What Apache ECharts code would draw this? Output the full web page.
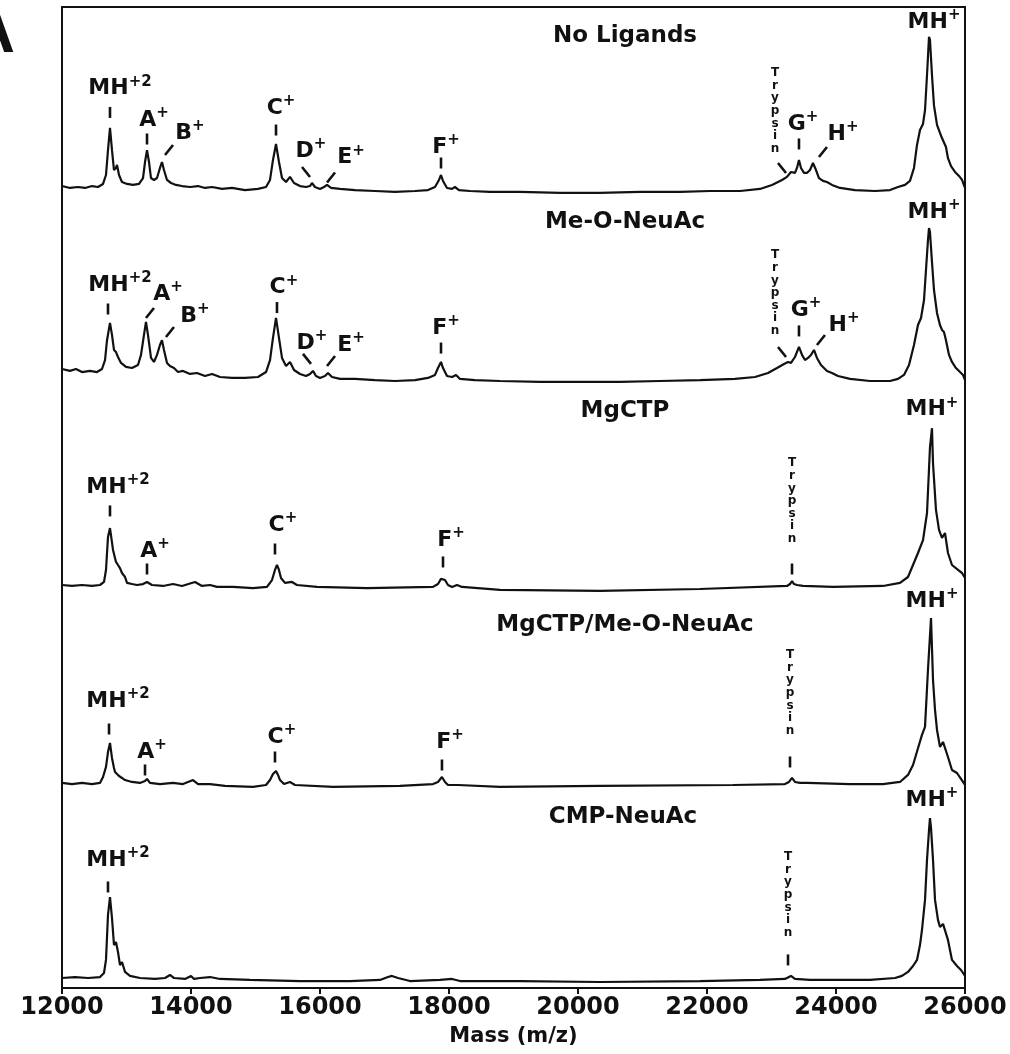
<!DOCTYPE html>
<html>
<head>
<meta charset="utf-8">
<script src="https://cdn.jsdelivr.net/npm/echarts@6/dist/echarts.min.js"></script>
<style>
  html, body { margin: 0; padding: 0; background: #fff; }
  #chart { width: 1010px; height: 1054px; }
</style>
</head>
<body>
<div id="chart"></div>
<script>
// ---- data -----------------------------------------------------------------
const massTicks = [12000, 14000, 16000, 18000, 20000, 22000, 24000, 26000];

const panelTitles = ['No Ligands', 'Me-O-NeuAc', 'MgCTP', 'MgCTP/Me-O-NeuAc', 'CMP-NeuAc'];

// [mass (m/z), relative intensity]
const spectrumNoLigands = [
  [12000,5.6],[12124,4.4],[12248,5],[12357,4.4],[12465,5.6],[12558,5],[12636,6.9],[12682,12.5],[12713,28],[12744,42],
  [12775,28],[12806,15.6],[12837,16.9],[12853,18.8],[12884,12.5],[12930,8.1],[13008,6.9],[13101,6.3],[13194,6.9],[13256,10.6],
  [13287,20.6],[13318,28],[13349,20.6],[13380,10.6],[13426,9.4],[13473,10.6],[13519,16.9],[13550,20.6],[13581,15.6],[13628,9.4],
  [13690,7.5],[13767,6.3],[13860,5.6],[13985,5],[14109,5.6],[14217,4.4],[14326,5],[14481,3.8],[14636,4.4],[14837,3.1],
  [15039,3.8],[15163,5],[15225,9.4],[15271,21.9],[15318,31.9],[15364,20.6],[15411,10.6],[15473,8.1],[15535,11.3],[15597,7.5],
  [15690,5.6],[15783,5],[15845,5.6],[15876,7.5],[15922,5],[16000,3.8],[16062,5],[16109,6.3],[16171,4.4],[16310,3.8],
  [16543,3.1],[16853,2.5],[17163,1.9],[17473,2.5],[17674,3.1],[17783,5],[17845,9.4],[17876,12.5],[17907,8.8],[17969,4.4],
  [18047,3.8],[18093,5],[18155,3.1],[18326,2.5],[18636,1.9],[19101,1.9],[19721,1.3],[20341,1.3],[20961,1.9],[21581,1.9],
  [22047,2.5],[22512,2.5],[22822,3.8],[23008,6.3],[23163,9.4],[23240,11.3],[23302,14.4],[23364,13.8],[23395,16.9],[23426,21.9],
  [23457,16.9],[23504,13.8],[23550,13.8],[23597,15.6],[23643,20],[23690,15.6],[23736,10.6],[23798,8.8],[23860,8.1],[23938,6.3],
  [24062,4.4],[24295,3.1],[24605,2.5],[24837,3.1],[24961,5],[25070,6.3],[25147,8.8],[25209,16.9],[25256,31.3],[25302,40.6],
  [25349,44.4],[25380,53],[25411,75],[25442,98.8],[25457,97],[25488,75],[25519,56],[25566,43.8],[25612,38.8],[25643,35.6],
  [25659,34.4],[25674,35.6],[25705,30],[25736,23],[25783,18],[25845,14.4],[25907,11.9],[25954,9.4],[26000,4.4]
];

const spectrumMeONeuAc = [
  [12000,10],[12124,8.8],[12217,10],[12310,8.1],[12434,8.8],[12543,8.1],[12620,10],[12667,15.6],[12698,28],[12744,38.8],
  [12775,31.3],[12806,21.9],[12837,20.6],[12868,17.5],[12915,13.8],[12992,11.3],[13085,10.6],[13178,12.5],[13225,18.8],[13271,31.3],
  [13302,39.4],[13333,31.3],[13380,16.9],[13426,14.4],[13473,18.8],[13519,25],[13550,28],[13581,21.9],[13628,13.8],[13674,11.9],
  [13736,10.6],[13798,8.1],[13876,8.8],[13985,6.9],[14093,7.5],[14217,5.6],[14326,6.9],[14450,5],[14636,4.4],[14837,4.4],
  [15039,5],[15163,8.1],[15225,15.6],[15271,29.4],[15318,41.9],[15364,29.4],[15411,16.9],[15473,11.9],[15535,14.4],[15597,9.4],
  [15690,6.9],[15783,5.6],[15845,6.9],[15891,8.8],[15938,5.6],[16000,4.4],[16077,5.6],[16124,7.5],[16186,5],[16310,3.8],
  [16543,3.8],[16853,3.1],[17163,2.5],[17473,3.1],[17674,4.4],[17783,6.3],[17829,10.6],[17876,14.4],[17907,10.6],[17969,5.6],
  [18047,5],[18109,6.3],[18171,3.8],[18403,3.1],[18791,2.5],[19411,1.9],[20031,1.9],[20651,1.9],[21271,2.5],[21892,3.1],
  [22434,3.8],[22744,5],[22946,7.5],[23085,10.6],[23194,13.1],[23256,14.4],[23302,13.8],[23364,17.5],[23426,23.8],[23473,18.8],
  [23519,15.6],[23566,16.9],[23612,18.8],[23659,21.9],[23705,16.9],[23767,12.5],[23860,8.8],[23938,7.5],[24031,5.6],[24217,3.8],
  [24527,2.5],[24837,2.5],[24961,3.8],[25054,6.3],[25132,12.5],[25209,25],[25271,37.5],[25318,41.9],[25364,53],[25395,71.9],
  [25426,90.6],[25442,98.1],[25457,95.6],[25488,76.9],[25519,59.4],[25566,45],[25612,37.5],[25643,34.4],[25674,33.1],[25705,28],
  [25752,18.8],[25798,14.4],[25860,10.6],[25923,8.1],[25969,6.3],[26000,3.1]
];

const spectrumMgCTP = [
  [12000,5],[12155,4.4],[12310,5],[12465,4.4],[12589,5],[12651,6.9],[12682,14.4],[12713,35],[12744,40.6],[12791,26.9],
  [12837,19.4],[12868,17.5],[12899,15.6],[12930,12.5],[12977,10],[13008,6.3],[13085,5.6],[13163,5],[13256,5.6],[13318,6.9],
  [13395,5],[13566,4.4],[13721,5.6],[13860,4.4],[14062,6.9],[14171,4.4],[14295,5],[14403,3.8],[14651,3.8],[14961,3.1],
  [15178,3.8],[15256,8.1],[15302,14.4],[15333,17.5],[15364,14.4],[15395,9.4],[15457,6.3],[15566,6.9],[15643,5],[15953,3.8],
  [16729,3.1],[17752,3.8],[17829,5.6],[17876,8.8],[17907,10],[17938,8.1],[17984,5],[18047,3.8],[18124,5],[18202,3.8],
  [18791,1.9],[20341,1.3],[21892,2.5],[23240,4.4],[23287,5.6],[23318,7.5],[23349,5.6],[23395,5],[23488,4.4],[23953,3.8],
  [24729,4.4],[24992,6.3],[25116,10],[25194,17.5],[25271,25],[25349,33],[25411,50],[25457,91],[25488,103],[25504,81],
  [25550,52],[25597,39.4],[25643,34.4],[25690,37.5],[25736,25],[25798,17.5],[25892,14.4],[25954,12.5],[26000,9.4]
];

const spectrumMgCTPMeONeuAc = [
  [12000,6.3],[12155,5.6],[12310,6.3],[12465,5.6],[12589,6.3],[12636,10],[12682,16.3],[12713,25.6],[12744,31.3],[12775,21.9],
  [12806,15.6],[12822,13.1],[12853,13.8],[12884,10.6],[12930,9.4],[12977,8.1],[13085,6.9],[13209,6.3],[13287,7.5],[13318,8.8],
  [13364,6.3],[13519,5.6],[13721,6.3],[13876,5.6],[14031,8.1],[14109,5.6],[14295,5.6],[14527,4.4],[14961,3.8],[15163,5],
  [15225,8.1],[15271,11.9],[15318,13.8],[15349,11.3],[15380,8.1],[15442,5.6],[15535,6.9],[15612,5],[16202,3.8],[17240,4.4],
  [17752,5.6],[17829,6.9],[17891,10],[17938,6.9],[17984,5],[18140,5],[18791,3.8],[20341,4.4],[22403,5],[23209,5.6],
  [23271,6.9],[23318,9.4],[23364,6.9],[23442,6.3],[23550,6.3],[24217,5.6],[24729,5.6],[24992,6.9],[25116,11.3],[25194,17.5],
  [25271,28],[25333,36.3],[25380,41.3],[25426,77],[25473,109.4],[25504,70.6],[25535,52],[25566,39.4],[25612,28.8],[25659,31.9],
  [25690,33.1],[25736,22.5],[25798,14.4],[25876,12.5],[25969,6.9],[26000,5]
];

const spectrumCMPNeuAc = [
  [12000,5],[12202,5.6],[12403,5],[12589,5.6],[12651,8.1],[12682,16.3],[12713,44.4],[12744,55.6],[12775,42.5],[12806,25.6],
  [12837,27.5],[12868,21.3],[12899,13.1],[12930,15],[12977,8.8],[13054,6.3],[13209,5],[13442,4.4],[13597,5],[13674,6.9],
  [13736,5],[13907,4.4],[14000,6.3],[14047,4.4],[14140,5],[14295,5.6],[14450,4.4],[14915,3.8],[15690,3.1],[16465,3.1],
  [16930,3.8],[17054,5.6],[17116,6.3],[17209,5],[17395,3.1],[17860,3.8],[18047,4.4],[18171,3.1],[19101,3.1],[20341,2.5],
  [21892,3.1],[22822,3.8],[23209,4.4],[23302,6.3],[23364,4.4],[23597,3.8],[24527,3.8],[24915,5],[25023,6.3],[25116,8.8],
  [25194,12.5],[25256,16.3],[25302,25.6],[25333,35],[25380,53.8],[25411,78.8],[25442,97.5],[25457,105],[25473,98.8],[25504,78.8],
  [25535,53.8],[25581,41.3],[25612,36.9],[25659,38.8],[25690,39.4],[25736,28.8],[25798,16.3],[25876,12.5],[25938,10],[26000,6.3]
];

// peak annotations: [label, mass of marker, intensity of marker, marker kind]
// marker kind: 'v' upright dash, 'f' forward slash, 'b' back slash, 'n' none
const peaksNoLigands = [
  ['MH+2',12744,51.6,'v'],['A+',13318,35,'v'],['B+',13659,28.1,'f'],['C+',15318,40.6,'v'],['D+',15783,14.4,'b'],
  ['E+',16171,10.9,'f'],['F+',17876,20,'v'],['Trypsin',23163,16.9,'b'],['G+',23426,31.9,'v'],['H+',23798,26.9,'f'],
  ['MH+',25442,98.8,'n']
];
const peaksMeONeuAc = [
  ['MH+2',12713,47.5,'v'],['A+',13364,45,'f'],['B+',13674,33.1,'f'],['C+',15333,48.4,'v'],['D+',15798,16.3,'b'],
  ['E+',16171,15,'f'],['F+',17876,23.1,'v'],['Trypsin',23163,20.6,'b'],['G+',23426,33.8,'v'],['H+',23767,28.1,'f'],
  ['MH+',25442,98.1,'n']
];
const peaksMgCTP = [
  ['MH+2',12744,51.3,'v'],['A+',13318,15,'v'],['C+',15302,27.5,'v'],['F+',17907,19.4,'v'],['Trypsin',23318,15,'v'],
  ['MH+',25488,103,'n']
];
const peaksMgCTPMeONeuAc = [
  ['MH+2',12729,40,'v'],['A+',13287,14.4,'v'],['C+',15302,22.5,'v'],['F+',17891,17.5,'v'],['Trypsin',23287,19.4,'v'],
  ['MH+',25473,109.4,'n']
];
const peaksCMPNeuAc = [
  ['MH+2',12713,61.9,'v'],['Trypsin',23256,16.3,'v'],['MH+',25457,105,'n']
];

// ---- layout ---------------------------------------------------------------
const spectra = [spectrumNoLigands, spectrumMeONeuAc, spectrumMgCTP, spectrumMgCTPMeONeuAc, spectrumCMPNeuAc];
const peakSets = [peaksNoLigands, peaksMeONeuAc, peaksMgCTP, peaksMgCTPMeONeuAc, peaksCMPNeuAc];

const PLOT_LEFT = 62, PLOT_RIGHT = 45, FRAME_TOP = 7, FRAME_BOTTOM = 66;
const PANEL_HEIGHT = 160;                       // pixels for 100 intensity units
const panelZeroY = [195, 385, 593, 793, 986];   // pixel row of zero intensity per trace
const titleCenters = [[625, 36], [625, 222], [625, 411], [625, 625], [623, 817]];

// label offsets (px) from each marker, same order as the peak lists
const labelOffsets = [
  [[10,-24],[7,-19],[21,-17],[5,-22],[5,-21],[20,-20],[5,-16],[-7,-57],[4,-20],[20,-18],[5,-15]],
  [[12,-24],[18,-19],[25,-16],[7,-20],[5,-16],[20,-16],[5,-20],[-7,-59],[7,-21],[23,-15],[5,-16]],
  [[8,-24],[8,-18],[8,-24],[8,-22],[0,-68],[0,-19]],
  [[9,-28],[7,-18],[7,-20],[8,-23],[0,-69],[1,-17]],
  [[10,-27],[0,-65],[2,-18]]
];

const FONT = '"DejaVu Sans", "Liberation Sans", sans-serif';
const INK = '#111';

function dash(x1, y1, x2, y2) {
  return { type: 'line', shape: { x1, y1, x2, y2 }, style: { stroke: INK, lineWidth: 2.6, lineCap: 'butt' } };
}

function peakText(label, x, y) {
  const cut = label.indexOf('+');
  const main = label.slice(0, cut), sup = label.slice(cut);
  return {
    type: 'text', x, y,
    style: {
      text: '{m|' + main + '}{s|' + sup + '}',
      align: 'center', verticalAlign: 'middle',
      rich: {
        m: { fontFamily: FONT, fontWeight: 'bold', fontSize: 22, lineHeight: 28, fill: INK, verticalAlign: 'middle' },
        s: { fontFamily: FONT, fontWeight: 'bold', fontSize: 15, lineHeight: 15, fill: INK, verticalAlign: 'top' }
      }
    }
  };
}

function trypsinText(x, y) {
  return {
    type: 'text', x, y,
    style: {
      text: 'Trypsin'.split('').join('\n'),
      align: 'center', verticalAlign: 'middle',
      fontFamily: FONT, fontWeight: 'bold', fontSize: 12, lineHeight: 12.6, fill: INK
    }
  };
}

function annotationSeries(panel) {
  const list = peakSets[panel];
  const offs = labelOffsets[panel];
  return {
    type: 'custom',
    xAxisIndex: panel, yAxisIndex: panel,
    silent: true, clip: false, z: 5,
    data: list.map(d => [d[1], d[2]]),
    renderItem: (params, api) => {
      const d = list[params.dataIndex];
      const off = offs[params.dataIndex];
      const p = api.coord([api.value(0), api.value(1)]);
      const children = [];
      if (d[3] === 'v') children.push(dash(p[0], p[1] - 5.5, p[0], p[1] + 5.5));
      else if (d[3] === 'f') children.push(dash(p[0] - 4, p[1] + 5, p[0] + 4, p[1] - 5));
      else if (d[3] === 'b') children.push(dash(p[0] - 4, p[1] - 5, p[0] + 4, p[1] + 5));
      const lx = p[0] + off[0], ly = p[1] + off[1];
      children.push(d[0] === 'Trypsin' ? trypsinText(lx, ly) : peakText(d[0], lx, ly));
      return { type: 'group', children };
    }
  };
}

// ---- option ---------------------------------------------------------------
const grids = [], xAxes = [], yAxes = [], series = [];

spectra.forEach((data, i) => {
  grids.push({ left: PLOT_LEFT, right: PLOT_RIGHT, top: panelZeroY[i] - PANEL_HEIGHT, height: PANEL_HEIGHT, show: false });
  xAxes.push({ type: 'value', gridIndex: i, min: massTicks[0], max: massTicks[massTicks.length - 1], show: false });
  yAxes.push({ type: 'value', gridIndex: i, min: 0, max: 100, show: false });
  series.push({
    type: 'line', name: panelTitles[i], xAxisIndex: i, yAxisIndex: i,
    data, showSymbol: false, symbol: 'none', smooth: false, clip: false,
    lineStyle: { color: INK, width: 2.2 }, z: 3
  });
  series.push(annotationSeries(i));
});

// outer frame carrying the mass axis
const frame = spectra.length;
grids.push({
  left: PLOT_LEFT, right: PLOT_RIGHT, top: FRAME_TOP, bottom: FRAME_BOTTOM,
  show: true, borderColor: INK, borderWidth: 2, backgroundColor: 'transparent'
});
xAxes.push({
  type: 'value', gridIndex: frame,
  min: massTicks[0], max: massTicks[massTicks.length - 1], interval: 2000,
  name: 'Mass (m/z)', nameLocation: 'middle', nameGap: 38,
  nameTextStyle: { fontFamily: FONT, fontWeight: 'bold', fontSize: 21, color: INK },
  axisLine: { show: true, lineStyle: { color: INK, width: 2 } },
  axisTick: { show: true, inside: false, length: 6, lineStyle: { color: INK, width: 2 } },
  axisLabel: {
    show: true, margin: 8, color: INK, fontFamily: FONT, fontWeight: 'bold', fontSize: 24,
    showMinLabel: true, showMaxLabel: true,
    formatter: v => String(v)
  },
  splitLine: { show: false }
});
yAxes.push({ type: 'value', gridIndex: frame, min: 0, max: 1, show: false });

const graphic = panelTitles.map((t, i) => ({
  type: 'text', x: titleCenters[i][0], y: titleCenters[i][1], silent: true,
  style: { text: t, fontFamily: FONT, fontWeight: 'bold', fontSize: 23, fill: INK, align: 'center', verticalAlign: 'middle' }
}));
// panel letter in the corner
graphic.push({
  type: 'text', x: 15, y: 34, silent: true,
  style: { text: 'A', fontFamily: '"Liberation Sans", Arial, sans-serif', fontWeight: 'bold', fontSize: 64, fill: INK, align: 'right', verticalAlign: 'middle' }
});

const chart = echarts.init(document.getElementById('chart'), null, { renderer: 'canvas' });
chart.setOption({
  animation: false,
  backgroundColor: '#fff',
  grid: grids,
  xAxis: xAxes,
  yAxis: yAxes,
  series,
  graphic
});
</script>
</body>
</html>
